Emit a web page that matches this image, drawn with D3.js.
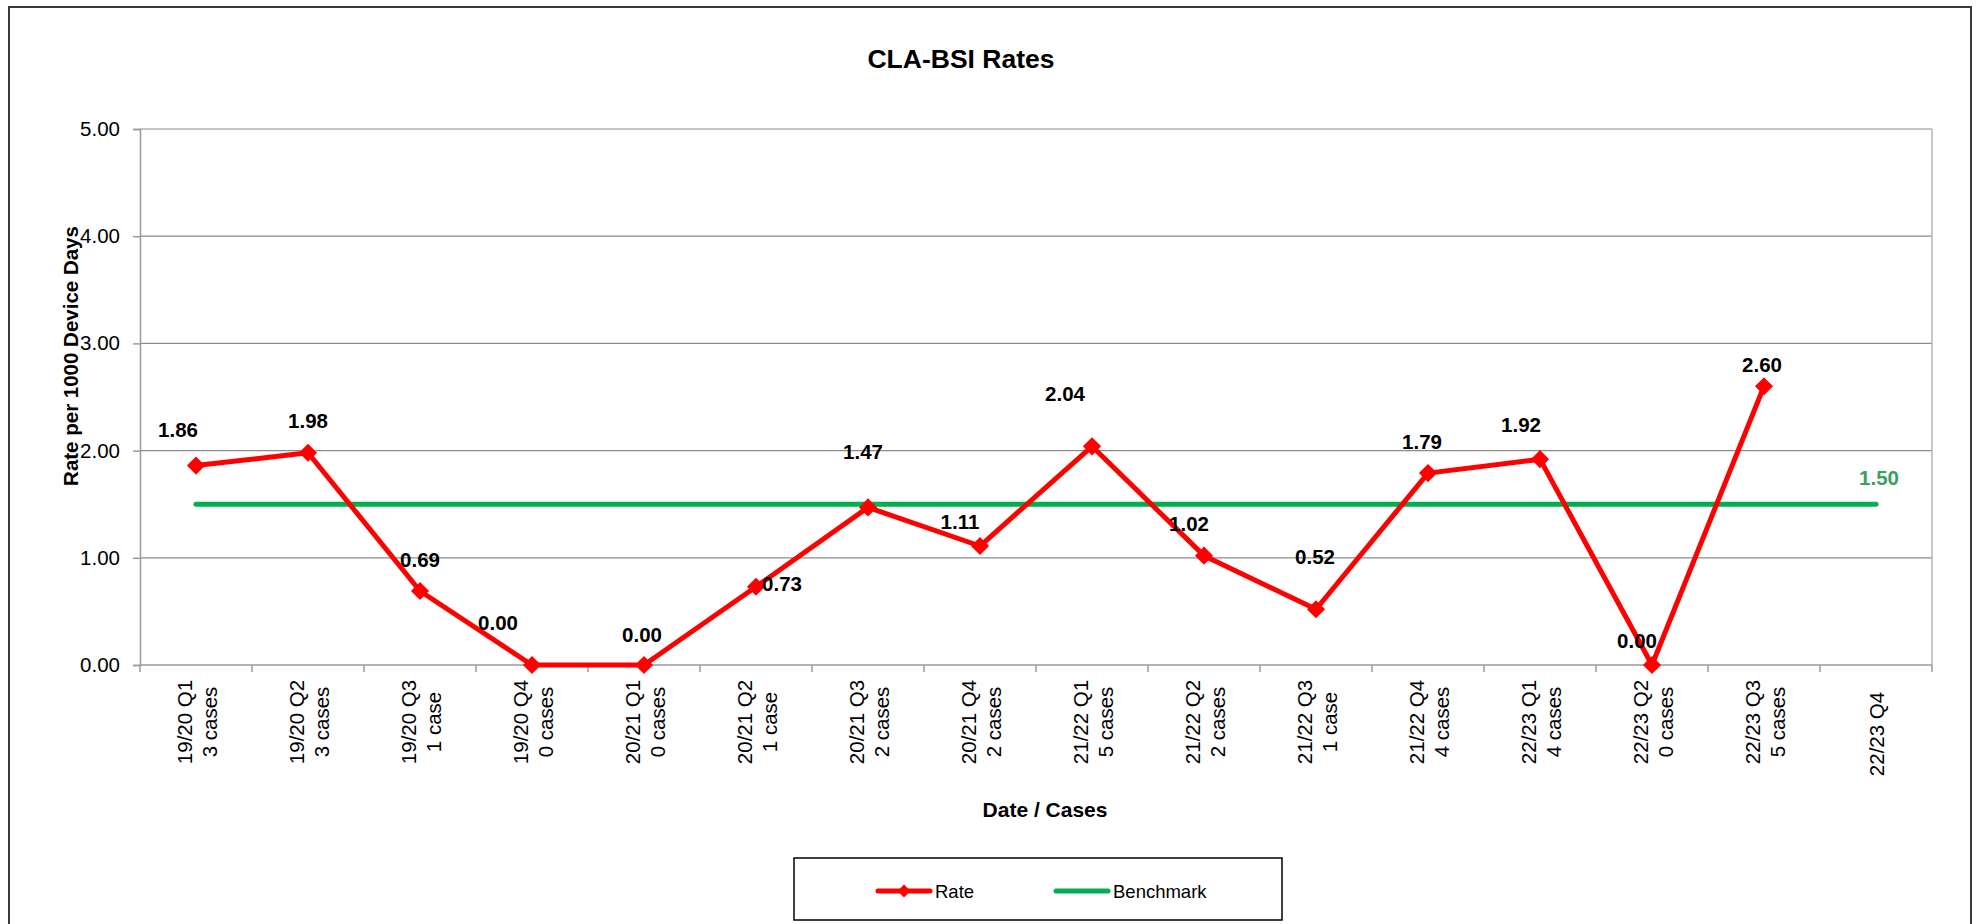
<!DOCTYPE html>
<html>
<head>
<meta charset="utf-8">
<script src="https://cdn.jsdelivr.net/npm/d3@7/dist/d3.min.js"></script>
<style>
body{margin:0;background:#fff;overflow:hidden;}
text{font-family:"Liberation Sans",Arial,sans-serif;}
</style>
</head>
<body>
<div id="chart"></div>
<script>
// chart data
var quarters = ["19/20 Q1","19/20 Q2","19/20 Q3","19/20 Q4","20/21 Q1","20/21 Q2","20/21 Q3","20/21 Q4",
                "21/22 Q1","21/22 Q2","21/22 Q3","21/22 Q4","22/23 Q1","22/23 Q2","22/23 Q3","22/23 Q4"];
var cases = [3,3,1,0,0,1,2,2,5,2,1,4,4,0,5,null];
var rate = [1.86,1.98,0.69,0.00,0.00,0.73,1.47,1.11,2.04,1.02,0.52,1.79,1.92,0.00,2.60,null];
var benchmark = [1.5,1.5,1.5,1.5,1.5,1.5,1.5,1.5,1.5,1.5,1.5,1.5,1.5,1.5,1.5,1.5];
var yTicks = [0,1,2,3,4,5];

// where the original had its rate labels dragged to (dx, dy from the point)
var labelNudge = [[-18,-29],[0,-25],[0,-24],[-34,-35],[-2,-23],[26,4],[-5,-48],[-20,-17],
                  [-27,-45],[-15,-25],[-1,-45],[-6,-24],[-19,-27],[-15,-17],[-2,-14]];

var width = 1979, height = 924;
var plotL = 140, plotR = 1932, plotT = 129, plotB = 665;

var svg = d3.select('#chart').append('svg')
  .attr('width', width)
  .attr('height', height);

// outer chart frame (bottom edge runs off the page like the original)
svg.append('rect')
  .attr('x', 9).attr('y', 7)
  .attr('width', 1962).attr('height', 960)
  .attr('fill', '#fff')
  .attr('stroke', '#3a3a3a')
  .attr('stroke-width', 2);

var x = d3.scaleBand().domain(quarters).range([plotL, plotR]).padding(0);
var y = d3.scaleLinear().domain([0, 5]).range([plotB, plotT]);
var cx = function(i){ return x(quarters[i]) + x.bandwidth()/2; };

// gridlines
svg.append('g').selectAll('line')
  .data(yTicks.filter(function(d){ return d > 0; }))
  .enter().append('line')
  .attr('x1', plotL).attr('x2', plotR)
  .attr('y1', function(d){ return y(d); })
  .attr('y2', function(d){ return y(d); })
  .attr('stroke', '#8c8c8c')
  .attr('stroke-width', 1.2);

// right edge of plot area
svg.append('line')
  .attr('x1', plotR).attr('x2', plotR)
  .attr('y1', plotT).attr('y2', plotB)
  .attr('stroke', '#b4b4b4').attr('stroke-width', 1.5);

// y axis
var yAxis = svg.append('g')
  .attr('transform', 'translate(' + plotL + ',0)')
  .call(d3.axisLeft(y).tickValues(yTicks).tickFormat(d3.format('.2f')).tickSize(7).tickPadding(13));
yAxis.select('.domain').attr('stroke', '#9a9a9a').attr('stroke-width', 1.5);
yAxis.selectAll('.tick line').attr('stroke', '#9a9a9a').attr('stroke-width', 1.5);
yAxis.selectAll('.tick text')
  .attr('font-size', '20.5px')
  .attr('fill', '#000')
  .style('font-family', '"Liberation Sans",Arial,sans-serif');

// x axis line + ticks at band edges
svg.append('line')
  .attr('x1', plotL).attr('x2', plotR)
  .attr('y1', plotB).attr('y2', plotB)
  .attr('stroke', '#9a9a9a').attr('stroke-width', 1.5);
svg.append('g').selectAll('line')
  .data(quarters.concat(['end']))
  .enter().append('line')
  .attr('x1', function(d, i){ return plotL + i * x.step(); })
  .attr('x2', function(d, i){ return plotL + i * x.step(); })
  .attr('y1', plotB).attr('y2', plotB + 7)
  .attr('stroke', '#9a9a9a').attr('stroke-width', 1.5);

// x labels: quarter + case count, rotated
var xl = svg.append('g').selectAll('g')
  .data(quarters)
  .enter().append('g')
  .attr('transform', function(d, i){
    var lines = cases[i] == null ? 1 : 2;
    return 'translate(' + cx(i) + ',' + (lines == 2 ? 722 : 734) + ') rotate(-90)';
  });
xl.each(function(d, i){
  var lines = [d];
  if (cases[i] != null) lines.push(cases[i] == 1 ? '1 case' : cases[i] + ' cases');
  var g = d3.select(this);
  lines.forEach(function(t, k){
    g.append('text')
      .attr('x', 0)
      .attr('y', (k - (lines.length - 1)/2) * 25 + 8)
      .attr('text-anchor', 'middle')
      .attr('font-size', '20.5px')
      .text(t);
  });
});

// benchmark line
var line = d3.line()
  .defined(function(d){ return d != null; })
  .x(function(d, i){ return cx(i); })
  .y(function(d){ return y(d); });

svg.append('path')
  .datum(benchmark)
  .attr('d', line)
  .attr('fill', 'none')
  .attr('stroke', '#00b050')
  .attr('stroke-width', 5)
  .attr('stroke-linecap', 'round');

// rate line
svg.append('path')
  .datum(rate)
  .attr('d', line)
  .attr('fill', 'none')
  .attr('stroke', '#ff0000')
  .attr('stroke-width', 5)
  .attr('stroke-linejoin', 'round');

var pts = rate.map(function(v, i){ return {v: v, i: i}; }).filter(function(d){ return d.v != null; });

var diamond = d3.symbol().type(d3.symbolDiamond2).size(210);
svg.append('g').selectAll('path')
  .data(pts)
  .enter().append('path')
  .attr('d', diamond)
  .attr('transform', function(d){ return 'translate(' + cx(d.i) + ',' + y(d.v) + ')'; })
  .attr('fill', '#ff0000');

// rate labels
svg.append('g').selectAll('text')
  .data(pts)
  .enter().append('text')
  .attr('x', function(d){ return cx(d.i) + labelNudge[d.i][0]; })
  .attr('y', function(d){ return y(d.v) + labelNudge[d.i][1]; })
  .attr('text-anchor', 'middle')
  .attr('font-size', '20.5px')
  .attr('font-weight', 'bold')
  .text(function(d){ return d3.format('.2f')(d.v); });

// benchmark label at last point
var lastB = benchmark.length - 1;
svg.append('text')
  .attr('x', cx(lastB) + 3)
  .attr('y', y(benchmark[lastB]) - 19)
  .attr('text-anchor', 'middle')
  .attr('font-size', '20.5px')
  .attr('font-weight', 'bold')
  .attr('fill', '#3a9f62')
  .text(d3.format('.2f')(benchmark[lastB]));

// titles
svg.append('text')
  .attr('x', 961).attr('y', 68)
  .attr('text-anchor', 'middle')
  .attr('font-size', '26.5px')
  .attr('font-weight', 'bold')
  .text('CLA-BSI Rates');

svg.append('text')
  .attr('transform', 'translate(78,356) rotate(-90)')
  .attr('text-anchor', 'middle')
  .attr('font-size', '20.5px')
  .attr('font-weight', 'bold')
  .text('Rate per 1000 Device Days');

svg.append('text')
  .attr('x', 1045).attr('y', 817)
  .attr('text-anchor', 'middle')
  .attr('font-size', '21px')
  .attr('font-weight', 'bold')
  .text('Date / Cases');

// legend
var leg = svg.append('g');
leg.append('rect')
  .attr('x', 794).attr('y', 858)
  .attr('width', 488).attr('height', 62)
  .attr('fill', '#fff')
  .attr('stroke', '#000')
  .attr('stroke-width', 1.5);

leg.append('line')
  .attr('x1', 878).attr('x2', 930).attr('y1', 891).attr('y2', 891)
  .attr('stroke', '#ff0000').attr('stroke-width', 5).attr('stroke-linecap', 'round');
leg.append('path')
  .attr('d', d3.symbol().type(d3.symbolDiamond2).size(110))
  .attr('transform', 'translate(904,891)')
  .attr('fill', '#ff0000');
leg.append('text')
  .attr('x', 935).attr('y', 898)
  .attr('font-size', '18.5px')
  .text('Rate');

leg.append('line')
  .attr('x1', 1056).attr('x2', 1108).attr('y1', 891).attr('y2', 891)
  .attr('stroke', '#00b050').attr('stroke-width', 5).attr('stroke-linecap', 'round');
leg.append('text')
  .attr('x', 1113).attr('y', 898)
  .attr('font-size', '18.5px')
  .text('Benchmark');
</script>
</body>
</html>
